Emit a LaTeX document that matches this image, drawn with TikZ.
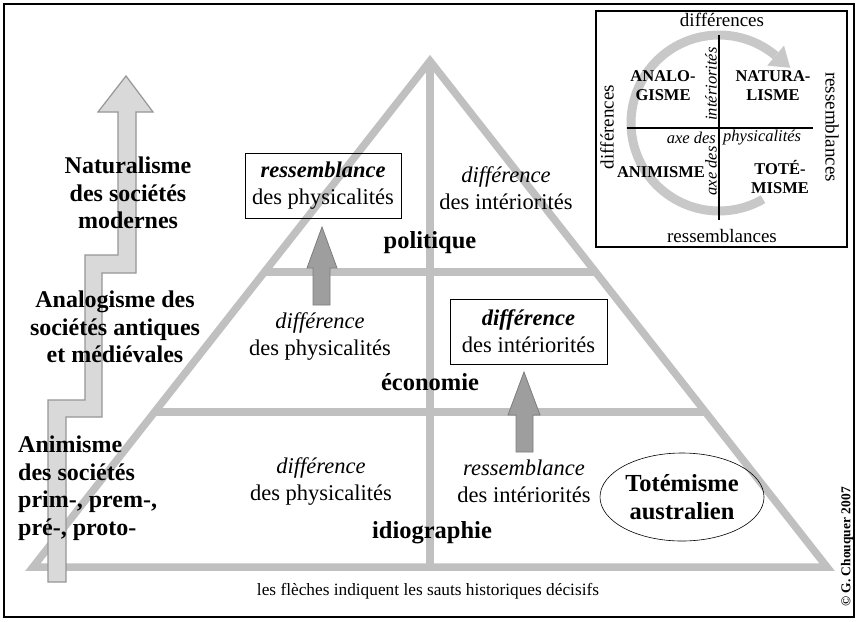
\documentclass[tikz,border=0pt]{standalone}
\usepackage{fontspec}
\setmainfont{Liberation Serif}
\usetikzlibrary{shapes.geometric}
\definecolor{pyr}{RGB}{192,192,192}
\definecolor{lafill}{RGB}{217,217,217}
\definecolor{laline}{RGB}{150,150,150}
\definecolor{dafill}{RGB}{158,158,158}
\definecolor{daline}{RGB}{125,125,125}
\definecolor{ringc}{RGB}{200,200,200}
\newcommand\FMain{\fontsize{22.5}{27}\selectfont}
\newcommand\FBold{\fontsize{24.5}{28}\selectfont\bfseries}
\newcommand\FLeft{\fontsize{24}{27.5}\selectfont\bfseries}
\newcommand\FIns{\fontsize{19}{21}\selectfont}
\newcommand\FInsB{\fontsize{16.5}{19}\selectfont\bfseries}
\newcommand\FInsI{\fontsize{16.5}{19}\selectfont\itshape}
\newcommand\FNote{\fontsize{17.3}{20}\selectfont}
\newcommand\FCopy{\fontsize{13.5}{15}\selectfont\bfseries}
\begin{document}
\begin{tikzpicture}[x=1pt,y=-1pt,
  pyrline/.style={draw=pyr, line width=7.5pt, line join=miter},
  larrow/.style={fill=lafill, draw=laline, line width=1.2pt, line join=miter},
  darrow/.style={fill=dafill, draw=daline, line width=0.8pt, line join=miter},
  maintxt/.style={inner sep=0pt, align=center, font=\FMain},
  boldlbl/.style={inner sep=0pt, align=center, font=\FBold},
  lefttxt/.style={inner sep=0pt, align=center, font=\FLeft},
  boxed/.style={draw=black, line width=0.8pt, inner sep=0pt, align=center, font=\FMain, minimum width=156pt, minimum height=65pt},
  instxt/.style={inner sep=0pt, align=center, font=\FIns},
  insbold/.style={inner sep=0pt, align=center, font=\FInsB},
  insital/.style={inner sep=0pt, align=center, font=\FInsI},
  axis/.style={draw=black, line width=1.4pt},
  ring/.style={draw=ringc, line width=9pt}
]
\useasboundingbox (0,0) rectangle (858,621);
\fill[white] (0,0) rectangle (858,621);
% outer frame
\draw[line width=1.5pt] (4,4) rectangle (854,617);

% pyramid
\coordinate (apex) at (430,61);
\coordinate (bl) at (33,567);
\coordinate (br) at (827,567);
\coordinate (bm) at (430,567);
\coordinate (h1l) at (264.4,272);
\coordinate (h1r) at (595.6,272);
\coordinate (h2l) at (154.6,412);
\coordinate (h2r) at (705.4,412);
\draw[pyrline] (apex) -- (bl) -- (br) -- cycle;
\draw[pyrline] (apex) -- (bm);
\draw[pyrline] (h1l) -- (h1r);
\draw[pyrline] (h2l) -- (h2r);

% left staircase arrow
\draw[larrow] (126,76) -- (153,112) -- (136,112) -- (136,273) -- (102,273) -- (102,417)
  -- (66,417) -- (66,582) -- (48,582) -- (48,400) -- (85,400) -- (85,255) -- (118,255)
  -- (118,112) -- (98,112) -- cycle;

% dark arrows
\draw[darrow] (322,227) -- (337,268) -- (330,268) -- (330,305) -- (313,305) -- (313,268) -- (307,268) -- cycle;
\draw[darrow] (524,372) -- (540,415) -- (533,415) -- (533,452) -- (516,452) -- (516,415) -- (508,415) -- cycle;

% left texts
\node[lefttxt] (nat) at (128,193) {Naturalisme\\des sociétés\\modernes};
\node[lefttxt] (ana) at (115,327) {Analogisme des\\sociétés antiques\\et médiévales};
\node[lefttxt, align=left, anchor=west] (ani) at (18,488) {Animisme\\des sociétés\\prim-, prem-,\\pré-, proto-};

% top tier
\node[boxed] (b1) at (323,186) {\textbf{\textit{ressemblance}}\\des physicalités};
\node[maintxt] (t1r) at (506,188.5) {\textit{différence}\\des intériorités};
\node[boldlbl] (pol) at (430,243) {politique};
% middle tier
\node[maintxt] (m1l) at (320,336.5) {\textit{différence}\\des physicalités};
\node[boxed, minimum width=157pt] (b2) at (528.5,331.5) {\textbf{\textit{différence}}\\des intériorités};
\node[boldlbl] (eco) at (430,382) {économie};
% bottom tier
\node[maintxt] (b1l) at (321,481.5) {\textit{différence}\\des physicalités};
\node[maintxt] (b1r) at (524,481.5) {\textit{ressemblance}\\des intériorités};
\node[boldlbl] (idio) at (432,533) {idiographie};
\node[ellipse, draw=black, line width=0.6pt, minimum width=164pt, minimum height=88pt, inner sep=0pt, align=center, font=\FBold] (tot) at (682,497) {Totémisme\\australien};

% note and copyright
\node[inner sep=0pt, font=\FNote] (note) at (428,591) {les flèches indiquent les sauts historiques décisifs};
\node[inner sep=0pt, rotate=90, font=\FCopy] (copy) at (847,547) {© G. Chouquer 2007};

% inset
\draw[line width=1.3pt] (596,11) rectangle (847,247);
\draw[ring] plot[domain=60:310, samples=90] ({719+88*cos(\x)},{123+88*sin(\x)});
\fill[ringc] (784.0,45.6) -- (790.2,67.8) -- (767.2,65.6) -- cycle;
\coordinate (vtop) at (719,35);
\coordinate (vbot) at (719,220);
\coordinate (hleft) at (627,128);
\coordinate (hright) at (813,128);
\draw[axis] (vtop) -- (vbot);
\draw[axis] (hleft) -- (hright);
\node[instxt] (dtop) at (722,20) {différences};
\node[instxt] (rbot) at (722,236) {ressemblances};
\node[instxt, rotate=90] (dleft) at (607,127) {différences};
\node[instxt, rotate=-90] (rright) at (832,127) {ressemblances};
\node[insbold] (qana) at (663,86) {ANALO-\\GISME};
\node[insbold] (qnat) at (773,86) {NATURA-\\LISME};
\node[insbold] (qani) at (661,172) {ANIMISME};
\node[insbold] (qtot) at (780,177) {TOTÉ-\\MISME};
\node[insital, rotate=90] (inter) at (711,84) {intériorités};
\node[insital, rotate=90] (axev) at (711,171) {axe des};
\node[insital, anchor=east] (axeh) at (716,138) {axe des};
\node[insital, anchor=west] (phys) at (723,138) {physicalités};
\end{tikzpicture}
\end{document}
